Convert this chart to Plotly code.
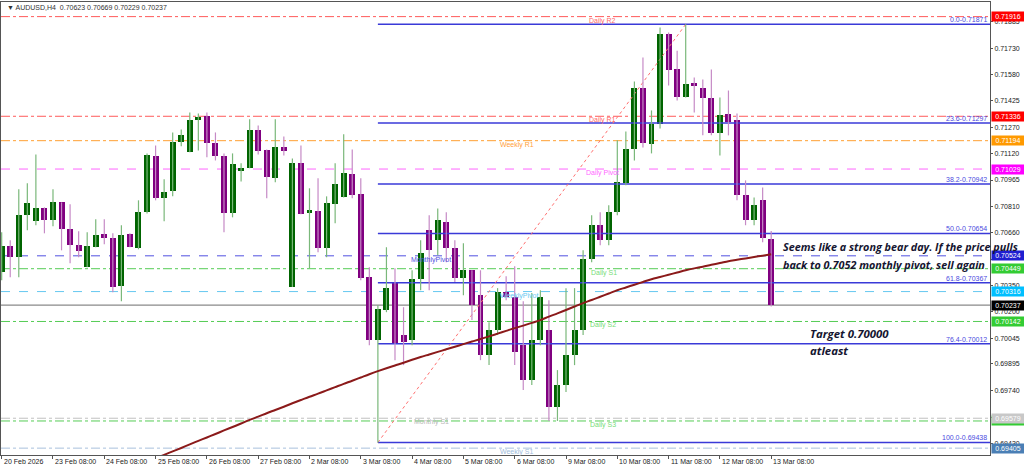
import plotly.graph_objects as go

# ---------------- data ----------------
symbol = "AUDUSD,H4"
opens = [0.70429,0.70580,0.70516,0.70760,0.70725,0.70800,0.70731,0.70835,0.70678,0.70586,
         0.70458,0.70574,0.70649,0.70626,0.70347,0.70649,0.70568,0.70777,0.71103,0.70859,
         0.70899,0.71184,0.71126,0.71312,0.71335,0.71178,0.71103,0.70771,0.71015,0.71033,
         0.71254,0.71137,0.70975,0.71155,0.70342,0.71062,0.70771,0.70783,0.70568,0.70824,
         0.70864,0.70998,0.70882,0.70400,0.70034,0.70208,0.70365,0.70063,0.70034,0.70388,
         0.70673,0.70615,0.70719,0.70568,0.70394,0.70440,0.70295,0.69946,0.70092,0.70312,
         0.70283,0.70004,0.69801,0.70034,0.70092,0.69644,0.69772,0.69946,0.70092,0.70504,
         0.70702,0.70615,0.70777,0.70946,0.71143,0.71498,0.71172,0.71294,0.71817,0.71614,
         0.71451,0.71527,0.71503,0.71445,0.71236,0.71347,0.71312,0.70876,0.70731,0.70847,
         0.70623]
highs = [0.70661,0.70615,0.70911,0.70946,0.71114,0.70806,0.70911,0.70835,0.70824,0.70667,
         0.70661,0.70737,0.70737,0.70655,0.70702,0.70655,0.70847,0.71120,0.71166,0.70969,
         0.71242,0.71259,0.71358,0.71352,0.71358,0.71242,0.71120,0.71120,0.71062,0.71318,
         0.71283,0.71143,0.71318,0.71219,0.71091,0.71166,0.70917,0.70975,0.70870,0.71062,
         0.71231,0.71143,0.70975,0.70458,0.70237,0.70574,0.70452,0.70225,0.70440,0.70615,
         0.70760,0.70800,0.70777,0.70615,0.70597,0.70440,0.70440,0.70138,0.70336,0.70405,
         0.70463,0.70260,0.70307,0.70324,0.70266,0.69859,0.70336,0.70336,0.70556,0.70760,
         0.70777,0.70818,0.71196,0.71248,0.71538,0.71678,0.71370,0.71852,0.71823,0.71718,
         0.71871,0.71561,0.71550,0.71608,0.71445,0.71486,0.71352,0.70963,0.70864,0.70922,
         0.70669]
lows = [0.70382,0.70400,0.70400,0.70673,0.70702,0.70655,0.70696,0.70556,0.70481,0.70516,
        0.70458,0.70574,0.70591,0.70312,0.70260,0.70574,0.70562,0.70771,0.70847,0.70725,
        0.70870,0.71161,0.71126,0.71137,0.71097,0.71079,0.70661,0.70748,0.70957,0.71033,
        0.71114,0.70859,0.70952,0.71108,0.70342,0.70766,0.70452,0.70545,0.70516,0.70713,
        0.70864,0.70859,0.70382,0.70004,0.69438,0.70196,0.69917,0.69888,0.70004,0.70324,
        0.70324,0.70527,0.70487,0.70371,0.70295,0.70150,0.69917,0.69888,0.70063,0.70266,
        0.69888,0.69743,0.69772,0.70004,0.69563,0.69563,0.69731,0.69888,0.70063,0.70487,
        0.70586,0.70586,0.70760,0.70934,0.71079,0.71155,0.71120,0.71265,0.71515,0.71428,
        0.71445,0.71358,0.71225,0.71225,0.71108,0.71225,0.70847,0.70702,0.70702,0.70603,
        0.70229]
closes = [0.70580,0.70516,0.70760,0.70830,0.70800,0.70731,0.70835,0.70678,0.70586,0.70551,
          0.70580,0.70644,0.70626,0.70342,0.70644,0.70574,0.70777,0.71108,0.70859,0.70893,
          0.71184,0.71225,0.71312,0.71329,0.71178,0.71103,0.70771,0.71056,0.71033,0.71259,
          0.71132,0.70981,0.71155,0.71132,0.71062,0.70766,0.70789,0.70568,0.70830,0.70940,
          0.71004,0.70876,0.70394,0.70034,0.70214,0.70336,0.70016,0.70022,0.70388,0.70539,
          0.70556,0.70731,0.70568,0.70394,0.70440,0.70237,0.69946,0.70092,0.70312,0.70283,
          0.69964,0.69801,0.70034,0.70283,0.69644,0.69772,0.69946,0.70092,0.70504,0.70702,
          0.70615,0.70777,0.70952,0.71143,0.71498,0.71178,0.71294,0.71817,0.71608,0.71451,
          0.71521,0.71515,0.71445,0.71236,0.71341,0.71300,0.70876,0.70731,0.70818,0.70626,
          0.70237]

# moving average (visible part, starting at bar 17)
ma_first_bar = 17
ma_values = [0.69325,0.69345,0.69366,0.69386,0.69406,0.69427,0.69447,0.69467,0.69487,0.69508,
             0.69528,0.69548,0.69569,0.69588,0.69608,0.69627,0.69646,0.69666,0.69685,0.69704,
             0.69722,0.69741,0.69760,0.69779,0.69797,0.69816,0.69835,0.69853,0.69870,0.69886,
             0.69902,0.69919,0.69935,0.69950,0.69965,0.69980,0.69995,0.70010,0.70025,0.70040,
             0.70055,0.70071,0.70087,0.70103,0.70118,0.70134,0.70150,0.70170,0.70189,0.70209,
             0.70229,0.70249,0.70267,0.70286,0.70305,0.70324,0.70340,0.70356,0.70372,0.70388,
             0.70401,0.70414,0.70427,0.70440,0.70451,0.70461,0.70472,0.70482,0.70493,0.70501,
             0.70509,0.70517,0.70525,0.70533]

time_labels = ["20 Feb 2026","23 Feb 08:00","24 Feb 08:00","25 Feb 08:00","26 Feb 08:00",
               "27 Feb 08:00","2 Mar 08:00","3 Mar 08:00","4 Mar 08:00","5 Mar 08:00",
               "6 Mar 08:00","9 Mar 08:00","10 Mar 08:00","11 Mar 08:00","12 Mar 08:00",
               "13 Mar 08:00"]
time_label_bars = [0,6,12,18,24,30,36,42,48,54,60,66,72,78,84,90]

level_names  = ["Daily R2","Daily R1","Weekly R1","Daily Pivot","MonthlyPivot","Daily S1",
                "WeeklyPivot","Daily S2","Daily S3","Monthly S1","Weekly S1"]
level_prices = [0.71916,0.71336,0.71194,0.71029,0.70524,0.70449,
                0.70316,0.70142,0.69563,0.69579,0.69405]

fib_start_bar, fib_end_bar = 44, 80
fib_ratios = ["0.0","23.6","38.2","50.0","61.8","76.4","100.0"]
fib_prices = [0.71871,0.71297,0.70942,0.70654,0.70367,0.70012,0.69438]

y_ticks = [0.71885,0.71730,0.71580,0.71425,0.71270,0.71120,0.70965,0.70810,0.70660,
           0.70505,0.70350,0.70200,0.70045,0.69895,0.69740,0.69585,0.69430]
y_ticks_hidden = [0.70505, 0.69585]   # covered by the level price boxes

note1 = ["Seems like a strong bear day. If the price pulls",
         "back to 0.7052 monthly pivot, sell again"]
note2 = ["Target 0.70000", "atleast"]

# ---------------- styles ----------------
level_colors = ["#ff5a5a","#ff5a5a","#ffa033","#ff66ff","#5050e0","#55cc55",
                "#66c8f0","#55cc55","#55cc55","#c0c0c0","#a8c0dc"]
level_dash   = ["dashdot","dashdot","dashdot","dash","dash","dashdot",
                "dash","dashdot","dashdot","dashdot","dashdot"]
level_text_col = ["#ff6a6a","#ff6a6a","#ffa040","#ff66ff","#5050e0","#77dd77",
                  "#66c8f0","#77dd77","#77dd77","#b8b8b8","#a0bcdc"]
level_box_col = ["#ff0000","#ff0000","#ff9900","#ff00ff","#1f1fd0","#33cc33",
                 "#00bfff","#33cc33","#33cc33","#c8c8c8","#4a7fb5"]
level_label_bar = [68.5,68.5,58.0,68.1,47.6,68.7,58.0,68.6,68.6,48.0,58.0]

UP_BODY, UP_WICK = "#006400", "#7ab87a"
DN_BODY, DN_WICK = "#800080", "#c68ac6"

X_MIN, X_MAX = -0.08, 115.59
Y_MIN, Y_MAX = 0.69365, 0.72001
FONT = "Liberation Sans, Arial, sans-serif"
SMALL = 7

fig = go.Figure()

# horizontal pivot levels (full width)
for p, c, d in zip(level_prices, level_colors, level_dash):
    fig.add_shape(type="line", xref="paper", x0=0, x1=1, yref="y", y0=p, y1=p,
                  line=dict(color=c, width=1, dash=d), layer="below")
# current price line
fig.add_shape(type="line", xref="paper", x0=0, x1=1, yref="y", y0=closes[-1], y1=closes[-1],
              line=dict(color="#8a8a8a", width=1.2), layer="below")

# fibonacci lines
for p in fib_prices:
    fig.add_trace(go.Scatter(x=[fib_start_bar, X_MAX], y=[p, p], mode="lines",
                             line=dict(color="#3a3ad8", width=1.5), hoverinfo="skip",
                             showlegend=False))
fig.add_trace(go.Scatter(x=[fib_start_bar, fib_end_bar], y=[fib_prices[-1], fib_prices[0]],
                         mode="lines", line=dict(color="#ff7070", width=1, dash="dot"),
                         hoverinfo="skip", showlegend=False))

# wicks
for up, col in ((True, UP_WICK), (False, DN_WICK)):
    xs, ys = [], []
    for i, (o, h, l, c) in enumerate(zip(opens, highs, lows, closes)):
        if (c >= o) == up:
            xs += [i, i, None]
            ys += [l, h, None]
    fig.add_trace(go.Scatter(x=xs, y=ys, mode="lines", line=dict(color=col, width=1.2),
                             hoverinfo="skip", showlegend=False))

# moving average
fig.add_trace(go.Scatter(x=list(range(ma_first_bar, ma_first_bar + len(ma_values))), y=ma_values,
                         mode="lines", line=dict(color="#8b1a1a", width=2, shape="spline"),
                         hoverinfo="skip", showlegend=False))

# bodies
for up, col in ((True, UP_BODY), (False, DN_BODY)):
    xs, hs, bs = [], [], []
    for i, (o, c) in enumerate(zip(opens, closes)):
        if (c >= o) == up:
            xs.append(i)
            diff = c - o
            if abs(diff) < 0.00004:
                diff = 0.00004 if up else -0.00004
            hs.append(diff)
            bs.append(o)
    fig.add_trace(go.Bar(x=xs, y=hs, base=bs, width=0.7, marker=dict(color=col, line_width=0),
                         hoverinfo="skip", showlegend=False))

ann = []
# header
ann.append(dict(xref="paper", yref="paper", x=0, y=0.987, xshift=4, xanchor="left", yanchor="middle",
                text="▼ %s  %.5f %.5f %.5f %.5f" % (symbol, opens[-1], highs[-1], lows[-1], closes[-1]),
                showarrow=False, font=dict(size=SMALL, color="#333333", family=FONT)))
# level texts
for name, p, bx, tc in zip(level_names, level_prices, level_label_bar, level_text_col):
    ann.append(dict(x=bx, y=p, xref="x", yref="y", xanchor="left", yanchor="middle", yshift=-4,
                    text=name, showarrow=False, font=dict(size=SMALL, color=tc, family=FONT)))
# fib texts
for r, p in zip(fib_ratios, fib_prices):
    ann.append(dict(xref="paper", x=1, xshift=-1, y=p, yref="y", xanchor="right", yanchor="bottom",
                    yshift=-1, text="%s-%.5f" % (r, p), showarrow=False,
                    font=dict(size=SMALL, color="#4b4be0", family=FONT)))
# right price boxes
for p, bc in zip(level_prices, level_box_col):
    ann.append(dict(xref="paper", x=1, xshift=1, y=p, yref="y", xanchor="left", yanchor="middle",
                    text="%.5f" % p, showarrow=False, bgcolor=bc, width=32, height=9, borderpad=0,
                    font=dict(size=SMALL, color="white", family=FONT)))
ann.append(dict(xref="paper", x=1, xshift=1, y=closes[-1], yref="y", xanchor="left", yanchor="middle",
                text="%.5f" % closes[-1], showarrow=False, bgcolor="#000000", width=32, height=9,
                borderpad=0, font=dict(size=SMALL, color="white", family=FONT)))
# time labels
for t, b in zip(time_labels, time_label_bars):
    ann.append(dict(x=b, y=0, xref="x", yref="paper", xanchor="left", yanchor="top", yshift=-1,
                    text=t, showarrow=False, font=dict(size=SMALL, color="#222222", family=FONT)))
# notes
note_font1 = dict(size=10.8, color="#151530", family="Open Sans, sans-serif")
note_font2 = dict(size=11.4, color="#151530", family="Open Sans, sans-serif")
for k, line in enumerate(note1):
    ann.append(dict(x=91.1, y=[0.70580, 0.70475][k], xref="x", yref="y", xanchor="left",
                    yanchor="middle", text="<b><i>%s</i></b>" % line, showarrow=False, font=note_font1))
for k, line in enumerate(note2):
    ann.append(dict(x=94.3, y=[0.70074, 0.69975][k], xref="x", yref="y", xanchor="left",
                    yanchor="middle", text="<b><i>%s</i></b>" % line, showarrow=False, font=note_font2))

fig.update_layout(
    width=1024, height=467, margin=dict(l=1, r=34, t=2, b=12),
    paper_bgcolor="white", plot_bgcolor="white", barmode="overlay", bargap=0,
    annotations=ann, showlegend=False, hovermode=False,
    xaxis=dict(range=[X_MIN, X_MAX], showgrid=False, zeroline=False, showline=True,
               linecolor="#555555", linewidth=1, mirror=True, ticks="outside", ticklen=3,
               tickcolor="#555555", tickvals=time_label_bars, showticklabels=False),
    yaxis=dict(range=[Y_MIN, Y_MAX], side="right", showgrid=False, zeroline=False, showline=True,
               linecolor="#555555", linewidth=1, mirror=True, ticks="outside", ticklen=2,
               tickcolor="#555555", tickvals=y_ticks,
               ticktext=["" if v in y_ticks_hidden else "%.5f" % v for v in y_ticks],
               tickfont=dict(size=SMALL, color="#222222", family=FONT)),
)
fig.write_html("out.html", config={"displayModeBar": False, "staticPlot": True},
               post_script="document.body.style.margin='0';document.body.style.padding='0';document.body.style.overflow='hidden';")
